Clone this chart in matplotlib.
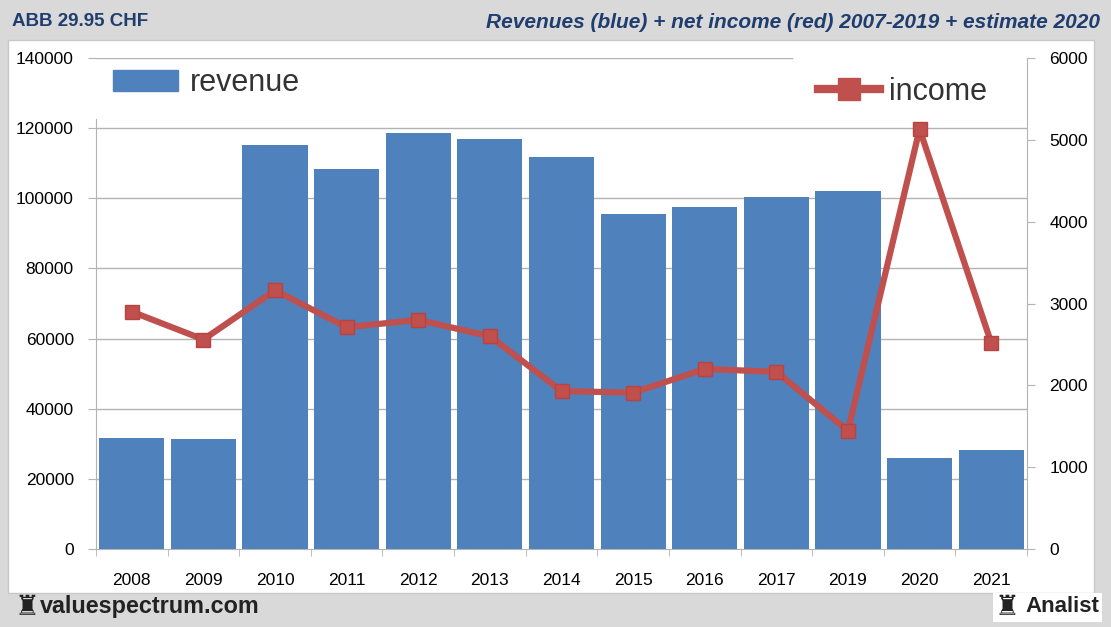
import numpy as np
import matplotlib
matplotlib.use('Agg')
import matplotlib.pyplot as plt
from matplotlib.patches import Rectangle, Patch
from matplotlib.lines import Line2D

years   = ['2008', '2009', '2010', '2011', '2012', '2013', '2014',
           '2015', '2016', '2017', '2019', '2020', '2021']
revenue = [31700, 31400, 115100, 108400, 118500, 116900, 111800,
           95600, 97500, 100400, 102000, 25900, 28200]
income  = [2900, 2560, 3160, 2710, 2800, 2600, 1930,
           1910, 2200, 2165, 1445, 5130, 2520]

rev_ticks = np.arange(0, 140001, 20000)
inc_ticks = np.arange(0, 6001, 1000)

BLUE  = '#4f81bd'
RED   = '#c0504d'
GRID  = '#b3b3b3'
NAVY  = '#1f3d6e'
plt.rcParams['font.family'] = ['Liberation Sans', 'DejaVu Sans']

fig = plt.figure(figsize=(11.11, 6.27), dpi=100)
fig.patch.set_facecolor('#d9d9d9')
W, H = 1111, 627
fig.patches.append(Rectangle((8 / W, 1 - 593 / H), (1094 - 8) / W, (593 - 40) / H,
                             transform=fig.transFigure, facecolor='white',
                             edgecolor='#c8c8c8', lw=1, zorder=-5))
fig.patches.append(Rectangle((993 / W, 1 - 622 / H), (1102 - 993) / W, (622 - 593) / H,
                             transform=fig.transFigure, facecolor='white',
                             edgecolor='none', zorder=-5))

ax = fig.add_axes([96 / W, 1 - 549 / H, (1027 - 96) / W, (549 - 58) / H])
ax.set_facecolor('none')
x = np.arange(len(years))
ax.bar(x, revenue, width=0.91, color=BLUE, zorder=2)
ax.set_xlim(-0.5, len(years) - 0.5)
ax.set_ylim(0, 140000)
ax.set_yticks(rev_ticks)
ax.set_yticklabels([str(v) for v in rev_ticks], fontsize=12.5)
for v in rev_ticks[1:]:
    ax.axhline(v, color=GRID, lw=1, zorder=1,
               xmax=0.748 if v == rev_ticks[-1] else 1)

ax.set_xticks(x)
ax.set_xticklabels(years, fontsize=12.5)
ax.set_xticks(np.arange(-0.5, len(years)), minor=True)
ax.tick_params(axis='x', which='major', length=0, pad=17)
ax.tick_params(axis='x', which='minor', length=5, color=GRID, direction='out')
ax.tick_params(axis='y', length=6, color=GRID, pad=10)
for s in ['top', 'right']:
    ax.spines[s].set_visible(False)
ax.spines['left'].set_color(GRID)
ax.spines['left'].set_bounds(0, 122500)
ax.spines['bottom'].set_color(GRID)

ax2 = ax.twinx()
ax2.plot(x, income, color=RED, lw=4.5, marker='s', markersize=10,
         markerfacecolor=RED, markeredgecolor='#b84340', zorder=3)
ax2.set_ylim(0, 6000)
ax2.set_yticks(inc_ticks)
ax2.set_yticklabels([str(v) for v in inc_ticks], fontsize=12.5)
ax2.tick_params(axis='y', length=6, color=GRID, pad=10)
for s in ['top', 'left', 'bottom']:
    ax2.spines[s].set_visible(False)
ax2.spines['right'].set_color(GRID)

leg1 = ax2.legend(handles=[Patch(color=BLUE, label='revenue')],
                  loc='center left', bbox_to_anchor=(92 / W, 1 - 83 / H),
                  bbox_transform=fig.transFigure, frameon=False,
                  fontsize=22, handlelength=2.1, handleheight=0.7,
                  handletextpad=0.4, borderpad=0.2)
leg1.get_texts()[0].set_color('#333333')
ax2.add_artist(leg1)
leg2 = ax2.legend(handles=[Line2D([], [], color=RED, lw=6, marker='s', markersize=16,
                                  label='income')],
                  loc='center left', bbox_to_anchor=(797 / W, 1 - 92 / H),
                  bbox_transform=fig.transFigure, frameon=False,
                  fontsize=22, handlelength=2.0, handletextpad=0.3, borderpad=0.2)
leg2.get_texts()[0].set_color('#333333')

fig.text(12 / W, 1 - 22 / H, 'ABB 29.95 CHF', fontsize=13.5, fontweight='bold',
         color=NAVY, va='center', ha='left')
fig.text(1100 / W, 1 - 22 / H,
         'Revenues (blue) + net income (red) 2007-2019 + estimate 2020',
         fontsize=15, fontweight='bold', style='italic', color=NAVY,
         va='center', ha='right')

fig.text(14 / W, 1 - 607 / H, '\u265c', fontsize=20, color='#222222',
         va='center', ha='left', family='DejaVu Sans')
fig.text(40 / W, 1 - 607 / H, 'valuespectrum.com', fontsize=16.8, fontweight='bold',
         color='#222222', va='center', ha='left')
fig.text(994 / W, 1 - 607 / H, '\u265c', fontsize=20, color='#222222',
         va='center', ha='left', family='DejaVu Sans')
fig.text(1025 / W, 1 - 607 / H, 'Analist', fontsize=16, fontweight='bold',
         color='#222222', va='center', ha='left')

fig.savefig('out.png', dpi=100, facecolor=fig.get_facecolor())
